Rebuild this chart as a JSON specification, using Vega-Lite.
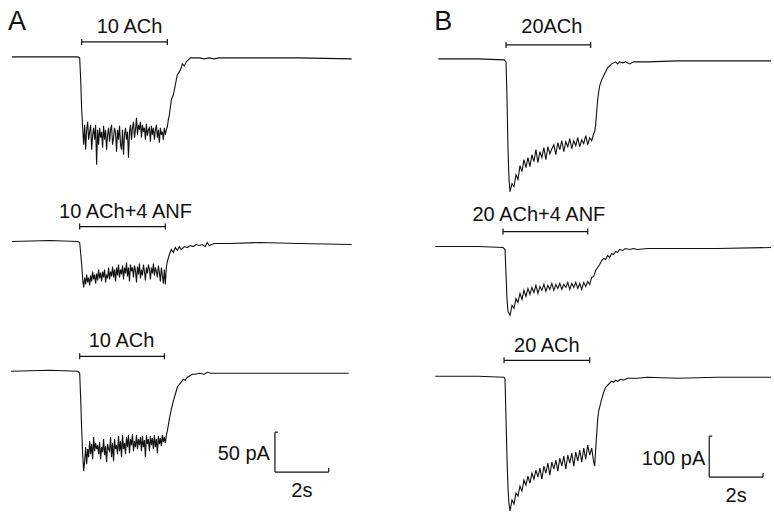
{
"$schema": "https://vega.github.io/schema/vega-lite/v6.json",
"width": 774, "height": 514,
"autosize": {"type": "fit", "contains": "padding"},
"padding": 0,
"background": "white",
"config": {"view": {"stroke": null}},
"datasets": {
"traces": [
{"id":"A1","x":12,"y":57},{"id":"A1","x":78,"y":57},{"id":"A1","x":80,"y":58},{"id":"A1","x":81,"y":80},{"id":"A1","x":82,"y":110},{"id":"A1","x":83,"y":128},{"id":"A1","x":84,"y":145},{"id":"A1","x":85,"y":125},{"id":"A1","x":86,"y":150},{"id":"A1","x":87,"y":130},{"id":"A1","x":88,"y":122},{"id":"A1","x":89,"y":140},{"id":"A1","x":90,"y":132},{"id":"A1","x":91,"y":125},{"id":"A1","x":92,"y":150},{"id":"A1","x":93,"y":135},{"id":"A1","x":94,"y":128},{"id":"A1","x":95,"y":140},{"id":"A1","x":96,"y":125},{"id":"A1","x":97,"y":165},{"id":"A1","x":98,"y":130},{"id":"A1","x":99,"y":145},{"id":"A1","x":100,"y":128},{"id":"A1","x":101,"y":138},{"id":"A1","x":102,"y":132},{"id":"A1","x":103,"y":148},{"id":"A1","x":104,"y":126},{"id":"A1","x":105,"y":140},{"id":"A1","x":106,"y":130},{"id":"A1","x":107,"y":150},{"id":"A1","x":108,"y":135},{"id":"A1","x":109,"y":128},{"id":"A1","x":110,"y":142},{"id":"A1","x":111,"y":130},{"id":"A1","x":112,"y":125},{"id":"A1","x":113,"y":145},{"id":"A1","x":114,"y":138},{"id":"A1","x":115,"y":128},{"id":"A1","x":116,"y":133},{"id":"A1","x":117,"y":152},{"id":"A1","x":118,"y":130},{"id":"A1","x":119,"y":140},{"id":"A1","x":120,"y":126},{"id":"A1","x":121,"y":145},{"id":"A1","x":122,"y":150},{"id":"A1","x":123,"y":130},{"id":"A1","x":124,"y":155},{"id":"A1","x":125,"y":135},{"id":"A1","x":126,"y":128},{"id":"A1","x":127,"y":140},{"id":"A1","x":128,"y":132},{"id":"A1","x":129,"y":158},{"id":"A1","x":130,"y":132},{"id":"A1","x":131,"y":125},{"id":"A1","x":132,"y":140},{"id":"A1","x":133,"y":128},{"id":"A1","x":134,"y":122},{"id":"A1","x":135,"y":138},{"id":"A1","x":136,"y":130},{"id":"A1","x":137,"y":118},{"id":"A1","x":138,"y":135},{"id":"A1","x":139,"y":125},{"id":"A1","x":140,"y":130},{"id":"A1","x":141,"y":122},{"id":"A1","x":142,"y":138},{"id":"A1","x":143,"y":125},{"id":"A1","x":144,"y":132},{"id":"A1","x":145,"y":128},{"id":"A1","x":146,"y":140},{"id":"A1","x":147,"y":124},{"id":"A1","x":148,"y":136},{"id":"A1","x":149,"y":130},{"id":"A1","x":150,"y":128},{"id":"A1","x":151,"y":142},{"id":"A1","x":152,"y":126},{"id":"A1","x":153,"y":135},{"id":"A1","x":154,"y":128},{"id":"A1","x":155,"y":140},{"id":"A1","x":156,"y":130},{"id":"A1","x":157,"y":125},{"id":"A1","x":158,"y":138},{"id":"A1","x":159,"y":130},{"id":"A1","x":160,"y":143},{"id":"A1","x":161,"y":128},{"id":"A1","x":162,"y":135},{"id":"A1","x":163,"y":132},{"id":"A1","x":164,"y":140},{"id":"A1","x":165,"y":128},{"id":"A1","x":166,"y":135},{"id":"A1","x":167,"y":130},{"id":"A1","x":168,"y":127},{"id":"A1","x":169,"y":120},{"id":"A1","x":170,"y":115},{"id":"A1","x":172,"y":100},{"id":"A1","x":174,"y":95},{"id":"A1","x":176,"y":85},{"id":"A1","x":178,"y":75},{"id":"A1","x":180,"y":72},{"id":"A1","x":182,"y":68},{"id":"A1","x":183,"y":64},{"id":"A1","x":185,"y":66},{"id":"A1","x":187,"y":62},{"id":"A1","x":189,"y":60},{"id":"A1","x":191,"y":58},{"id":"A1","x":195,"y":58},{"id":"A1","x":200,"y":58},{"id":"A1","x":205,"y":59},{"id":"A1","x":210,"y":58},{"id":"A1","x":215,"y":59},{"id":"A1","x":220,"y":58},{"id":"A1","x":260,"y":58},{"id":"A1","x":300,"y":58},{"id":"A1","x":353,"y":59},

{"id":"A2","x":12,"y":242},{"id":"A2","x":50,"y":241},{"id":"A2","x":78,"y":242},{"id":"A2","x":80,"y":243},{"id":"A2","x":82,"y":265},{"id":"A2","x":83,"y":280},{"id":"A2","x":84,"y":288},{"id":"A2","x":85,"y":278},{"id":"A2","x":86,"y":285},{"id":"A2","x":87,"y":275},{"id":"A2","x":88,"y":283},{"id":"A2","x":89,"y":278},{"id":"A2","x":90,"y":286},{"id":"A2","x":91,"y":276},{"id":"A2","x":92,"y":282},{"id":"A2","x":93,"y":272},{"id":"A2","x":94,"y":280},{"id":"A2","x":95,"y":275},{"id":"A2","x":96,"y":284},{"id":"A2","x":97,"y":274},{"id":"A2","x":98,"y":281},{"id":"A2","x":99,"y":270},{"id":"A2","x":100,"y":279},{"id":"A2","x":101,"y":273},{"id":"A2","x":102,"y":282},{"id":"A2","x":103,"y":272},{"id":"A2","x":104,"y":278},{"id":"A2","x":105,"y":270},{"id":"A2","x":106,"y":283},{"id":"A2","x":107,"y":275},{"id":"A2","x":108,"y":279},{"id":"A2","x":109,"y":268},{"id":"A2","x":110,"y":280},{"id":"A2","x":111,"y":272},{"id":"A2","x":112,"y":277},{"id":"A2","x":113,"y":267},{"id":"A2","x":114,"y":278},{"id":"A2","x":115,"y":270},{"id":"A2","x":116,"y":282},{"id":"A2","x":117,"y":268},{"id":"A2","x":118,"y":276},{"id":"A2","x":119,"y":265},{"id":"A2","x":120,"y":278},{"id":"A2","x":121,"y":270},{"id":"A2","x":122,"y":275},{"id":"A2","x":123,"y":266},{"id":"A2","x":124,"y":280},{"id":"A2","x":125,"y":268},{"id":"A2","x":126,"y":274},{"id":"A2","x":127,"y":263},{"id":"A2","x":128,"y":277},{"id":"A2","x":129,"y":268},{"id":"A2","x":130,"y":282},{"id":"A2","x":131,"y":265},{"id":"A2","x":132,"y":272},{"id":"A2","x":133,"y":268},{"id":"A2","x":134,"y":278},{"id":"A2","x":135,"y":266},{"id":"A2","x":136,"y":271},{"id":"A2","x":137,"y":283},{"id":"A2","x":138,"y":267},{"id":"A2","x":139,"y":275},{"id":"A2","x":140,"y":264},{"id":"A2","x":141,"y":279},{"id":"A2","x":142,"y":270},{"id":"A2","x":143,"y":276},{"id":"A2","x":144,"y":265},{"id":"A2","x":145,"y":272},{"id":"A2","x":146,"y":281},{"id":"A2","x":147,"y":268},{"id":"A2","x":148,"y":274},{"id":"A2","x":149,"y":265},{"id":"A2","x":150,"y":270},{"id":"A2","x":151,"y":280},{"id":"A2","x":152,"y":268},{"id":"A2","x":153,"y":274},{"id":"A2","x":154,"y":264},{"id":"A2","x":155,"y":276},{"id":"A2","x":156,"y":268},{"id":"A2","x":157,"y":272},{"id":"A2","x":158,"y":278},{"id":"A2","x":159,"y":266},{"id":"A2","x":160,"y":273},{"id":"A2","x":161,"y":282},{"id":"A2","x":162,"y":268},{"id":"A2","x":163,"y":276},{"id":"A2","x":164,"y":284},{"id":"A2","x":165,"y":270},{"id":"A2","x":166,"y":285},{"id":"A2","x":167,"y":268},{"id":"A2","x":168,"y":262},{"id":"A2","x":170,"y":255},{"id":"A2","x":172,"y":250},{"id":"A2","x":174,"y":253},{"id":"A2","x":176,"y":248},{"id":"A2","x":178,"y":251},{"id":"A2","x":180,"y":247},{"id":"A2","x":182,"y":250},{"id":"A2","x":185,"y":247},{"id":"A2","x":188,"y":248},{"id":"A2","x":191,"y":246},{"id":"A2","x":194,"y":247},{"id":"A2","x":197,"y":245},{"id":"A2","x":200,"y":246},{"id":"A2","x":203,"y":245},{"id":"A2","x":206,"y":247},{"id":"A2","x":208,"y":243},{"id":"A2","x":210,"y":246},{"id":"A2","x":215,"y":244},{"id":"A2","x":230,"y":244},{"id":"A2","x":260,"y":243},{"id":"A2","x":300,"y":244},{"id":"A2","x":353,"y":245},

{"id":"A3","x":11,"y":372},{"id":"A3","x":50,"y":371},{"id":"A3","x":78,"y":372},{"id":"A3","x":80,"y":374},{"id":"A3","x":81,"y":400},{"id":"A3","x":82,"y":430},{"id":"A3","x":83,"y":455},{"id":"A3","x":84,"y":472},{"id":"A3","x":85,"y":462},{"id":"A3","x":86,"y":448},{"id":"A3","x":87,"y":465},{"id":"A3","x":88,"y":450},{"id":"A3","x":89,"y":458},{"id":"A3","x":90,"y":442},{"id":"A3","x":91,"y":455},{"id":"A3","x":92,"y":445},{"id":"A3","x":93,"y":460},{"id":"A3","x":94,"y":438},{"id":"A3","x":95,"y":452},{"id":"A3","x":96,"y":444},{"id":"A3","x":97,"y":450},{"id":"A3","x":98,"y":446},{"id":"A3","x":99,"y":455},{"id":"A3","x":100,"y":443},{"id":"A3","x":101,"y":460},{"id":"A3","x":102,"y":448},{"id":"A3","x":103,"y":453},{"id":"A3","x":104,"y":440},{"id":"A3","x":105,"y":456},{"id":"A3","x":106,"y":447},{"id":"A3","x":107,"y":463},{"id":"A3","x":108,"y":445},{"id":"A3","x":109,"y":450},{"id":"A3","x":110,"y":452},{"id":"A3","x":111,"y":438},{"id":"A3","x":112,"y":458},{"id":"A3","x":113,"y":444},{"id":"A3","x":114,"y":462},{"id":"A3","x":115,"y":440},{"id":"A3","x":116,"y":450},{"id":"A3","x":117,"y":446},{"id":"A3","x":118,"y":455},{"id":"A3","x":119,"y":437},{"id":"A3","x":120,"y":452},{"id":"A3","x":121,"y":442},{"id":"A3","x":122,"y":458},{"id":"A3","x":123,"y":436},{"id":"A3","x":124,"y":450},{"id":"A3","x":125,"y":444},{"id":"A3","x":126,"y":455},{"id":"A3","x":127,"y":438},{"id":"A3","x":128,"y":448},{"id":"A3","x":129,"y":436},{"id":"A3","x":130,"y":454},{"id":"A3","x":131,"y":440},{"id":"A3","x":132,"y":446},{"id":"A3","x":133,"y":435},{"id":"A3","x":134,"y":452},{"id":"A3","x":135,"y":442},{"id":"A3","x":136,"y":448},{"id":"A3","x":137,"y":436},{"id":"A3","x":138,"y":450},{"id":"A3","x":139,"y":440},{"id":"A3","x":140,"y":446},{"id":"A3","x":141,"y":438},{"id":"A3","x":142,"y":452},{"id":"A3","x":143,"y":437},{"id":"A3","x":144,"y":448},{"id":"A3","x":145,"y":441},{"id":"A3","x":146,"y":458},{"id":"A3","x":147,"y":436},{"id":"A3","x":148,"y":445},{"id":"A3","x":149,"y":440},{"id":"A3","x":150,"y":452},{"id":"A3","x":151,"y":437},{"id":"A3","x":152,"y":446},{"id":"A3","x":153,"y":439},{"id":"A3","x":154,"y":450},{"id":"A3","x":155,"y":436},{"id":"A3","x":156,"y":448},{"id":"A3","x":157,"y":440},{"id":"A3","x":158,"y":454},{"id":"A3","x":159,"y":437},{"id":"A3","x":160,"y":445},{"id":"A3","x":161,"y":439},{"id":"A3","x":162,"y":447},{"id":"A3","x":163,"y":436},{"id":"A3","x":164,"y":443},{"id":"A3","x":165,"y":438},{"id":"A3","x":166,"y":444},{"id":"A3","x":167,"y":436},{"id":"A3","x":168,"y":432},{"id":"A3","x":170,"y":420},{"id":"A3","x":172,"y":410},{"id":"A3","x":174,"y":402},{"id":"A3","x":176,"y":395},{"id":"A3","x":178,"y":388},{"id":"A3","x":180,"y":385},{"id":"A3","x":182,"y":383},{"id":"A3","x":184,"y":380},{"id":"A3","x":186,"y":381},{"id":"A3","x":188,"y":378},{"id":"A3","x":190,"y":377},{"id":"A3","x":193,"y":375},{"id":"A3","x":196,"y":375},{"id":"A3","x":200,"y":374},{"id":"A3","x":205,"y":375},{"id":"A3","x":208,"y":373},{"id":"A3","x":212,"y":374},{"id":"A3","x":220,"y":374},{"id":"A3","x":260,"y":374},{"id":"A3","x":300,"y":374},{"id":"A3","x":350,"y":374},

{"id":"B1","x":440,"y":59},{"id":"B1","x":480,"y":59},{"id":"B1","x":506,"y":60},{"id":"B1","x":508,"y":62},{"id":"B1","x":509,"y":100},{"id":"B1","x":510,"y":150},{"id":"B1","x":511,"y":180},{"id":"B1","x":512,"y":192},{"id":"B1","x":514,"y":184},{"id":"B1","x":516,"y":187},{"id":"B1","x":518,"y":175},{"id":"B1","x":520,"y":180},{"id":"B1","x":522,"y":166},{"id":"B1","x":524,"y":172},{"id":"B1","x":526,"y":160},{"id":"B1","x":528,"y":168},{"id":"B1","x":530,"y":158},{"id":"B1","x":532,"y":167},{"id":"B1","x":534,"y":155},{"id":"B1","x":536,"y":162},{"id":"B1","x":538,"y":150},{"id":"B1","x":540,"y":163},{"id":"B1","x":542,"y":152},{"id":"B1","x":544,"y":158},{"id":"B1","x":546,"y":148},{"id":"B1","x":548,"y":160},{"id":"B1","x":550,"y":147},{"id":"B1","x":552,"y":154},{"id":"B1","x":554,"y":149},{"id":"B1","x":556,"y":145},{"id":"B1","x":558,"y":155},{"id":"B1","x":560,"y":143},{"id":"B1","x":562,"y":150},{"id":"B1","x":564,"y":141},{"id":"B1","x":566,"y":152},{"id":"B1","x":568,"y":142},{"id":"B1","x":570,"y":147},{"id":"B1","x":572,"y":139},{"id":"B1","x":574,"y":149},{"id":"B1","x":576,"y":141},{"id":"B1","x":578,"y":146},{"id":"B1","x":580,"y":138},{"id":"B1","x":582,"y":147},{"id":"B1","x":584,"y":140},{"id":"B1","x":586,"y":144},{"id":"B1","x":588,"y":136},{"id":"B1","x":590,"y":145},{"id":"B1","x":592,"y":138},{"id":"B1","x":594,"y":141},{"id":"B1","x":596,"y":134},{"id":"B1","x":597,"y":132},{"id":"B1","x":598,"y":125},{"id":"B1","x":599,"y":112},{"id":"B1","x":600,"y":100},{"id":"B1","x":601,"y":92},{"id":"B1","x":602,"y":86},{"id":"B1","x":604,"y":80},{"id":"B1","x":606,"y":76},{"id":"B1","x":608,"y":72},{"id":"B1","x":610,"y":68},{"id":"B1","x":612,"y":66},{"id":"B1","x":614,"y":64},{"id":"B1","x":616,"y":63},{"id":"B1","x":618,"y":62},{"id":"B1","x":620,"y":64},{"id":"B1","x":622,"y":62},{"id":"B1","x":625,"y":63},{"id":"B1","x":628,"y":62},{"id":"B1","x":632,"y":64},{"id":"B1","x":636,"y":62},{"id":"B1","x":640,"y":62},{"id":"B1","x":650,"y":62},{"id":"B1","x":680,"y":61},{"id":"B1","x":700,"y":61},{"id":"B1","x":740,"y":61},{"id":"B1","x":774,"y":61},

{"id":"B2","x":437,"y":247},{"id":"B2","x":480,"y":247},{"id":"B2","x":505,"y":248},{"id":"B2","x":507,"y":250},{"id":"B2","x":508,"y":275},{"id":"B2","x":509,"y":300},{"id":"B2","x":510,"y":312},{"id":"B2","x":512,"y":316},{"id":"B2","x":514,"y":306},{"id":"B2","x":516,"y":309},{"id":"B2","x":518,"y":299},{"id":"B2","x":520,"y":303},{"id":"B2","x":522,"y":294},{"id":"B2","x":524,"y":300},{"id":"B2","x":526,"y":291},{"id":"B2","x":528,"y":297},{"id":"B2","x":530,"y":289},{"id":"B2","x":532,"y":295},{"id":"B2","x":534,"y":288},{"id":"B2","x":536,"y":293},{"id":"B2","x":538,"y":286},{"id":"B2","x":540,"y":294},{"id":"B2","x":542,"y":287},{"id":"B2","x":544,"y":291},{"id":"B2","x":546,"y":285},{"id":"B2","x":548,"y":292},{"id":"B2","x":550,"y":286},{"id":"B2","x":552,"y":290},{"id":"B2","x":554,"y":284},{"id":"B2","x":556,"y":291},{"id":"B2","x":558,"y":285},{"id":"B2","x":560,"y":289},{"id":"B2","x":562,"y":284},{"id":"B2","x":564,"y":290},{"id":"B2","x":566,"y":285},{"id":"B2","x":568,"y":288},{"id":"B2","x":570,"y":283},{"id":"B2","x":572,"y":290},{"id":"B2","x":574,"y":284},{"id":"B2","x":576,"y":288},{"id":"B2","x":578,"y":283},{"id":"B2","x":580,"y":289},{"id":"B2","x":582,"y":284},{"id":"B2","x":584,"y":290},{"id":"B2","x":586,"y":283},{"id":"B2","x":588,"y":287},{"id":"B2","x":590,"y":282},{"id":"B2","x":592,"y":285},{"id":"B2","x":594,"y":278},{"id":"B2","x":596,"y":277},{"id":"B2","x":598,"y":271},{"id":"B2","x":600,"y":268},{"id":"B2","x":602,"y":265},{"id":"B2","x":604,"y":261},{"id":"B2","x":606,"y":259},{"id":"B2","x":608,"y":260},{"id":"B2","x":610,"y":256},{"id":"B2","x":612,"y":258},{"id":"B2","x":614,"y":254},{"id":"B2","x":616,"y":255},{"id":"B2","x":618,"y":252},{"id":"B2","x":620,"y":253},{"id":"B2","x":622,"y":250},{"id":"B2","x":625,"y":251},{"id":"B2","x":628,"y":249},{"id":"B2","x":632,"y":250},{"id":"B2","x":636,"y":249},{"id":"B2","x":640,"y":250},{"id":"B2","x":650,"y":249},{"id":"B2","x":680,"y":249},{"id":"B2","x":720,"y":249},{"id":"B2","x":774,"y":248},

{"id":"B3","x":437,"y":377},{"id":"B3","x":480,"y":377},{"id":"B3","x":506,"y":378},{"id":"B3","x":507,"y":380},{"id":"B3","x":508,"y":420},{"id":"B3","x":509,"y":460},{"id":"B3","x":510,"y":490},{"id":"B3","x":511,"y":505},{"id":"B3","x":512,"y":512},{"id":"B3","x":514,"y":501},{"id":"B3","x":516,"y":505},{"id":"B3","x":518,"y":494},{"id":"B3","x":520,"y":497},{"id":"B3","x":522,"y":487},{"id":"B3","x":524,"y":492},{"id":"B3","x":526,"y":481},{"id":"B3","x":528,"y":486},{"id":"B3","x":530,"y":477},{"id":"B3","x":532,"y":484},{"id":"B3","x":534,"y":474},{"id":"B3","x":536,"y":480},{"id":"B3","x":538,"y":471},{"id":"B3","x":540,"y":478},{"id":"B3","x":542,"y":469},{"id":"B3","x":544,"y":480},{"id":"B3","x":546,"y":467},{"id":"B3","x":548,"y":474},{"id":"B3","x":550,"y":464},{"id":"B3","x":552,"y":476},{"id":"B3","x":554,"y":463},{"id":"B3","x":556,"y":470},{"id":"B3","x":558,"y":461},{"id":"B3","x":560,"y":472},{"id":"B3","x":562,"y":459},{"id":"B3","x":564,"y":467},{"id":"B3","x":566,"y":457},{"id":"B3","x":568,"y":470},{"id":"B3","x":570,"y":456},{"id":"B3","x":572,"y":464},{"id":"B3","x":574,"y":454},{"id":"B3","x":576,"y":467},{"id":"B3","x":578,"y":453},{"id":"B3","x":580,"y":462},{"id":"B3","x":582,"y":451},{"id":"B3","x":584,"y":463},{"id":"B3","x":586,"y":449},{"id":"B3","x":588,"y":460},{"id":"B3","x":590,"y":446},{"id":"B3","x":592,"y":456},{"id":"B3","x":594,"y":449},{"id":"B3","x":596,"y":463},{"id":"B3","x":597,"y":467},{"id":"B3","x":598,"y":450},{"id":"B3","x":599,"y":435},{"id":"B3","x":600,"y":420},{"id":"B3","x":601,"y":412},{"id":"B3","x":602,"y":408},{"id":"B3","x":604,"y":400},{"id":"B3","x":606,"y":393},{"id":"B3","x":608,"y":388},{"id":"B3","x":610,"y":386},{"id":"B3","x":612,"y":384},{"id":"B3","x":614,"y":382},{"id":"B3","x":616,"y":383},{"id":"B3","x":618,"y":381},{"id":"B3","x":620,"y":382},{"id":"B3","x":623,"y":380},{"id":"B3","x":626,"y":381},{"id":"B3","x":630,"y":379},{"id":"B3","x":640,"y":379},{"id":"B3","x":650,"y":378},{"id":"B3","x":680,"y":379},{"id":"B3","x":720,"y":378},{"id":"B3","x":774,"y":378}
],
"segments": [
{"x":82,"x2":168,"y":42,"y2":42},{"x":82,"x2":82,"y":39,"y2":45},{"x":168,"x2":168,"y":39,"y2":45},
{"x":80,"x2":166,"y":227,"y2":227},{"x":80,"x2":80,"y":224,"y2":230},{"x":166,"x2":166,"y":224,"y2":230},
{"x":80,"x2":165,"y":357,"y2":357},{"x":80,"x2":80,"y":354,"y2":360},{"x":165,"x2":165,"y":354,"y2":360},
{"x":508,"x2":593,"y":45,"y2":45},{"x":508,"x2":508,"y":42,"y2":48},{"x":593,"x2":593,"y":42,"y2":48},
{"x":505,"x2":590,"y":232,"y2":232},{"x":505,"x2":505,"y":229,"y2":235},{"x":590,"x2":590,"y":229,"y2":235},
{"x":506,"x2":592,"y":361,"y2":361},{"x":506,"x2":506,"y":358,"y2":364},{"x":592,"x2":592,"y":358,"y2":364},
{"x":276,"x2":276,"y":433,"y2":473},{"x":276,"x2":330,"y":473,"y2":473},{"x":276,"x2":279,"y":433,"y2":433},{"x":330,"x2":330,"y":469,"y2":473},
{"x":712,"x2":712,"y":437,"y2":478},{"x":712,"x2":766,"y":478,"y2":478},{"x":712,"x2":715,"y":437,"y2":437},{"x":766,"x2":766,"y":474,"y2":478}
],
"letters": [{"x":17,"y":22,"t":"A"},{"x":445,"y":22,"t":"B"}],
"labels": [
{"x":130,"y":27,"t":"10 ACh"},{"x":126,"y":212,"t":"10 ACh+4 ANF"},{"x":122,"y":342,"t":"10 ACh"},
{"x":554,"y":27,"t":"20ACh"},{"x":541,"y":215,"t":"20 ACh+4 ANF"},{"x":549,"y":347,"t":"20 ACh"},
{"x":303,"y":492,"t":"2s"},{"x":739,"y":497,"t":"2s"}
],
"rlabels": [{"x":271,"y":455,"t":"50 pA"},{"x":708,"y":460,"t":"100 pA"}]
},
"layer": [
{
"data": {"name": "traces"},
"mark": {"type": "line", "color": "#111111", "strokeWidth": 1.1, "interpolate": "linear"},
"encoding": {
"x": {"field": "x", "type": "quantitative", "axis": null, "scale": {"domain": [0, 774], "nice": false, "zero": false}},
"y": {"field": "y", "type": "quantitative", "axis": null, "scale": {"domain": [0, 514], "nice": false, "zero": false, "reverse": true}},
"detail": {"field": "id", "type": "nominal"}
}
},
{
"data": {"name": "segments"},
"mark": {"type": "rule", "color": "#111111", "strokeWidth": 1.2},
"encoding": {
"x": {"field": "x", "type": "quantitative"},
"x2": {"field": "x2"},
"y": {"field": "y", "type": "quantitative"},
"y2": {"field": "y2"}
}
},
{
"data": {"name": "letters"},
"mark": {"type": "text", "font": "Liberation Sans", "fontSize": 27, "align": "center", "baseline": "middle", "color": "#111111"},
"encoding": {
"x": {"field": "x", "type": "quantitative"},
"y": {"field": "y", "type": "quantitative"},
"text": {"field": "t"}
}
},
{
"data": {"name": "labels"},
"mark": {"type": "text", "font": "Liberation Sans", "fontSize": 20, "align": "center", "baseline": "middle", "color": "#111111"},
"encoding": {
"x": {"field": "x", "type": "quantitative"},
"y": {"field": "y", "type": "quantitative"},
"text": {"field": "t"}
}
},
{
"data": {"name": "rlabels"},
"mark": {"type": "text", "font": "Liberation Sans", "fontSize": 20, "align": "right", "baseline": "middle", "color": "#111111"},
"encoding": {
"x": {"field": "x", "type": "quantitative"},
"y": {"field": "y", "type": "quantitative"},
"text": {"field": "t"}
}
}
]
}
